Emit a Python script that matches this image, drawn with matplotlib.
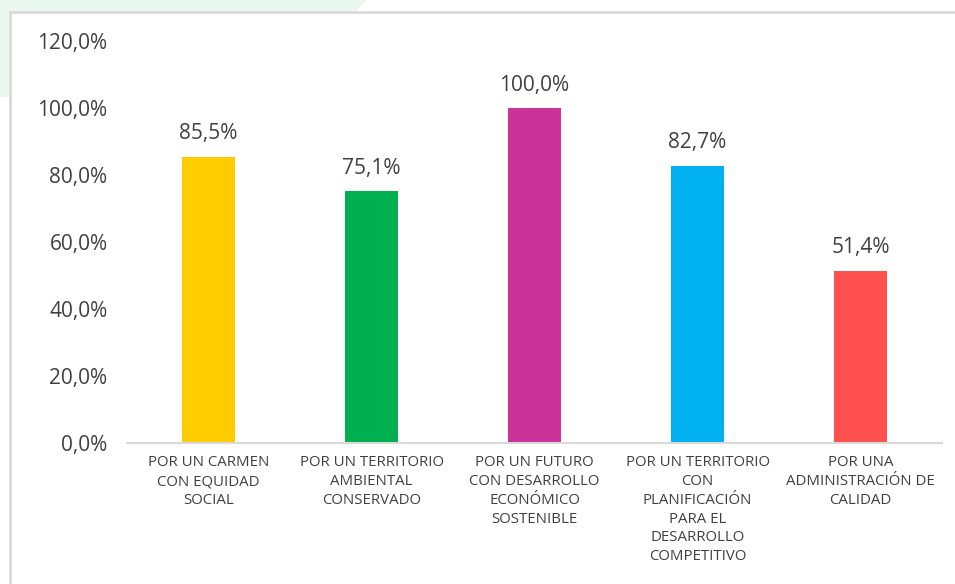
import matplotlib
matplotlib.use("Agg")
import matplotlib.pyplot as plt
from matplotlib.patches import Polygon, Rectangle

categories = [
    "POR UN CARMEN\nCON EQUIDAD\nSOCIAL",
    "POR UN TERRITORIO\nAMBIENTAL\nCONSERVADO",
    "POR UN FUTURO\nCON DESARROLLO\nECONÓMICO\nSOSTENIBLE",
    "POR UN TERRITORIO\nCON\nPLANIFICACIÓN\nPARA EL\nDESARROLLO\nCOMPETITIVO",
    "POR UNA\nADMINISTRACIÓN DE\nCALIDAD",
]
values = [85.5, 75.1, 100.0, 82.7, 51.4]
colors = ["#FFCC00", "#00B050", "#CC3399", "#00B0F0", "#FF5050"]
yticks = [0, 20, 40, 60, 80, 100, 120]

W, H = 955, 584
fig = plt.figure(figsize=(W / 100, H / 100), dpi=100)
fig.patch.set_facecolor("white")

# light mint background shape at top-left
poly = Polygon([(0, 1), (367 / W, 1), (356 / W, 1 - 11 / H), (9 / W, 1 - 11 / H),
                (9 / W, 1 - 97 / H), (0, 1 - 97 / H)],
               closed=True, transform=fig.transFigure, facecolor="#E9F7EF",
               edgecolor="none", zorder=-2)
fig.patches.append(poly)
frame = Rectangle((9.5 / W, -0.05), 1.0, 1 - 11.5 / H + 0.05, transform=fig.transFigure,
                  facecolor="white", edgecolor="#D9D9D9", linewidth=2, zorder=-1)
fig.patches.append(frame)

ax = fig.add_axes([127 / W, (H - 443) / H, (942 - 127) / W, (443 - 41) / H])
ax.set_facecolor("none")
x = range(len(values))
ax.bar(x, values, width=0.32, color=colors, zorder=2)
ax.set_xlim(-0.5, len(values) - 0.5)
ax.set_ylim(0, 120)

fam = ["Open Sans", "DejaVu Sans"]
tc = "#404040"
ax.set_yticks(yticks)
ax.set_yticklabels([f"{v:.1f}%".replace(".", ",") for v in yticks],
                   fontsize=15, color=tc, family=fam)
ax.set_xticks(list(x))
ax.set_xticklabels(categories, fontsize=10.8, color=tc, family=fam, linespacing=1.34)
ax.tick_params(axis="y", length=0, pad=14)
ax.tick_params(axis="x", length=0, pad=9)
for s in ["top", "right", "left"]:
    ax.spines[s].set_visible(False)
ax.spines["bottom"].set_color("#D9D9D9")
ax.spines["bottom"].set_linewidth(1.5)

for i, v in enumerate(values):
    ax.annotate(f"{v:.1f}%".replace(".", ","), (i, v), xytext=(0, 9),
                textcoords="offset points", ha="center", va="bottom",
                fontsize=15, color=tc, family=fam)

fig.savefig("out.png", dpi=100)
